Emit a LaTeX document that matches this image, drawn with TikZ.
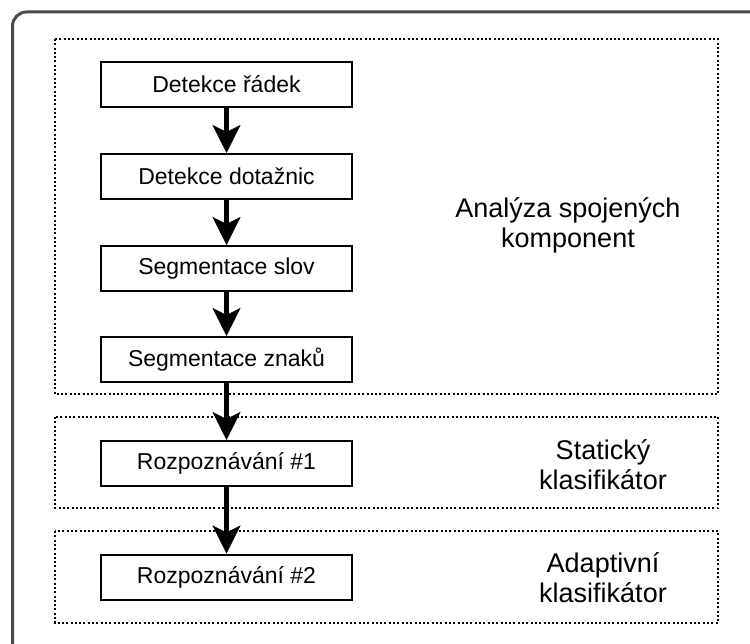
\documentclass[tikz,border=0pt]{standalone}
\usepackage{fontspec}
\setmainfont{Liberation Sans}
\usetikzlibrary{arrows.meta}
\definecolor{framegray}{HTML}{4A4A4A}
\begin{document}
\begin{tikzpicture}[x=1pt,y=-1pt,
  stepbox/.style={draw, line width=2pt, minimum width=251pt, minimum height=45pt, inner sep=0pt, font=\fontsize{23}{27}\selectfont},
  groupbox/.style={draw, line width=2pt, dash pattern=on 2pt off 2.3pt},
  grouplabel/.style={align=center, inner sep=0pt, font=\fontsize{27}{30}\selectfont},
  flow/.style={line width=4.5pt, -{Stealth[length=28pt,width=28pt,inset=7pt,line width=0.5pt]}}
]
\useasboundingbox (0,0) rectangle (750,644);
\clip (0,0) rectangle (750,644);
\fill[white] (0,0) rectangle (750,644);
% outer frame
\draw[framegray, line width=3pt, rounded corners=14pt] (12.5,12) rectangle (775,670);
% groups
\draw[groupbox] (55,39) rectangle (718,394);
\draw[groupbox] (55,417) rectangle (718,508);
\draw[groupbox] (55,531) rectangle (718,623);
% steps
\node[stepbox] (s1) at (226.5,84.5) {Detekce řádek};
\node[stepbox] (s2) at (226.5,176.5) {Detekce dotažnic};
\node[stepbox] (s3) at (226.5,268.5) {Segmentace slov};
\node[stepbox] (s4) at (226.5,359.5) {Segmentace znaků};
\node[stepbox] (s5) at (226.5,463.5) {Rozpoznávání \#1};
\node[stepbox] (s6) at (226.5,577) {Rozpoznávání \#2};
% labels
\node[grouplabel] (l1) at (568,225) {Analýza spojených\\komponent};
\node[grouplabel] (l2) at (603,465) {Statický\\klasifikátor};
\node[grouplabel] (l3) at (603,578) {Adaptivní\\klasifikátor};
% arrows
\draw[flow] (s1.south) -- (s2.north);
\draw[flow] (s2.south) -- (s3.north);
\draw[flow] (s3.south) -- (s4.north);
\draw[flow] (s4.south) -- (s5.north);
\draw[flow] (s5.south) -- (s6.north);
\end{tikzpicture}
\end{document}
